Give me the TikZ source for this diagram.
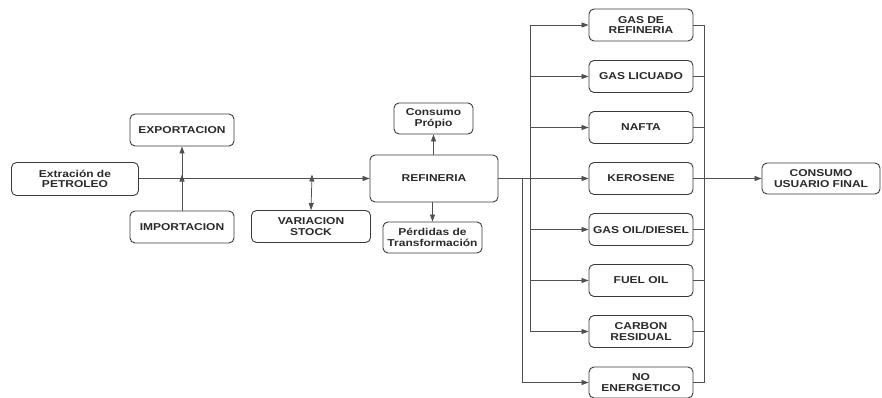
\documentclass[tikz,border=0pt]{standalone}
\usepackage{fontspec}
\setmainfont{Liberation Sans}[FakeStretch=1.2]
\usetikzlibrary{arrows.meta}
\definecolor{boxline}{HTML}{3A3A3A}
\definecolor{conn}{HTML}{505050}
\definecolor{txt}{HTML}{2A2A2A}
\tikzset{
  bx/.style={draw=boxline, line width=0.9pt, rounded corners=5pt, inner sep=0pt,
    align=center, text=txt, font=\bfseries\fontsize{10}{10.5}\selectfont},
  cn/.style={draw=conn, line width=0.75pt},
  tip/.tip={Triangle[length=7pt,width=5pt]},
  ar/.style={cn, -tip},
  dar/.style={cn, tip-tip},
}
\begin{document}
\begin{tikzpicture}[x=1pt,y=-1pt]
\useasboundingbox (0,0) rectangle (882,398);
% left part
\node[bx, minimum width=127pt, minimum height=33pt] (ext) at (75,179) {Extración de\\PETROLEO};
\node[bx, minimum width=104pt, minimum height=32pt] (exp) at (182,130) {EXPORTACION};
\node[bx, minimum width=104pt, minimum height=32pt] (imp) at (182,227) {IMPORTACION};
\node[bx, minimum width=119pt, minimum height=32pt] (var) at (311,226.5) {VARIACION\\STOCK};
\node[bx, minimum width=128pt, minimum height=47pt] (ref) at (434,178.5) {REFINERIA};
\node[bx, minimum width=79pt, minimum height=31pt] (cpr) at (433.5,118.5) {Consumo\\Própio};
\node[bx, minimum width=99pt, minimum height=31pt] (per) at (432.5,237.5) {Pérdidas de\\Transformación};
% products
\node[bx, minimum width=104pt, minimum height=32pt] (p1) at (641,25) {GAS DE\\REFINERIA};
\node[bx, minimum width=104pt, minimum height=32pt] (p2) at (641,76.5) {GAS LICUADO};
\node[bx, minimum width=104pt, minimum height=32pt] (p3) at (641,127.5) {NAFTA};
\node[bx, minimum width=104pt, minimum height=32pt] (p4) at (641,178.5) {KEROSENE};
\node[bx, minimum width=104pt, minimum height=32pt] (p5) at (641,229.5) {GAS OIL/DIESEL};
\node[bx, minimum width=104pt, minimum height=32pt] (p6) at (641,280.5) {FUEL OIL};
\node[bx, minimum width=104pt, minimum height=32pt] (p7) at (641,331.5) {CARBON\\RESIDUAL};
\node[bx, minimum width=104pt, minimum height=31pt] (p8) at (641,382.5) {NO\\ENERGETICO};
\node[bx, minimum width=118pt, minimum height=31pt] (cuf) at (821,178.5) {CONSUMO\\USUARIO FINAL};
% coordinates
\coordinate (jexp) at (182,178.5);
\coordinate (jvar) at (312,178.5);
\coordinate (ja) at (522,178.5);
\coordinate (jb) at (522,382.5);
\coordinate (bt) at (530,25);
\coordinate (bb) at (530,331.5);
\coordinate (ct) at (704,25);
\coordinate (cb) at (704,382.5);
% connectors left
\draw[ar] (ext.east |- ref.west) -- (ref.west);
\draw[ar] (jexp) -- (exp.south);
\draw[ar] (imp.north) -- ([yshift=4pt]jexp);
\draw[dar] ([yshift=4pt]jvar) -- (var.north);
\draw[ar] (ref.north -| cpr.south) -- (cpr.south);
\draw[ar] (ref.south -| per.north) -- (per.north);
% distribution
\draw[ar] (ref.east) -- (p4.west);
\draw[cn] (ja) -- (jb);
\draw[ar] (jb) -- (p8.west);
\draw[cn] (bt) -- (bb);
\foreach \p in {p1,p2,p3,p5,p6,p7} {
  \draw[ar] (bt |- \p.west) -- (\p.west);
}
% collector
\draw[cn] (ct) -- (cb);
\foreach \p in {p1,p2,p3,p5,p6,p7,p8} {
  \draw[cn] (\p.east) -- (ct |- \p.east);
}
\draw[ar] (p4.east) -- (cuf.west);
\end{tikzpicture}
\end{document}
